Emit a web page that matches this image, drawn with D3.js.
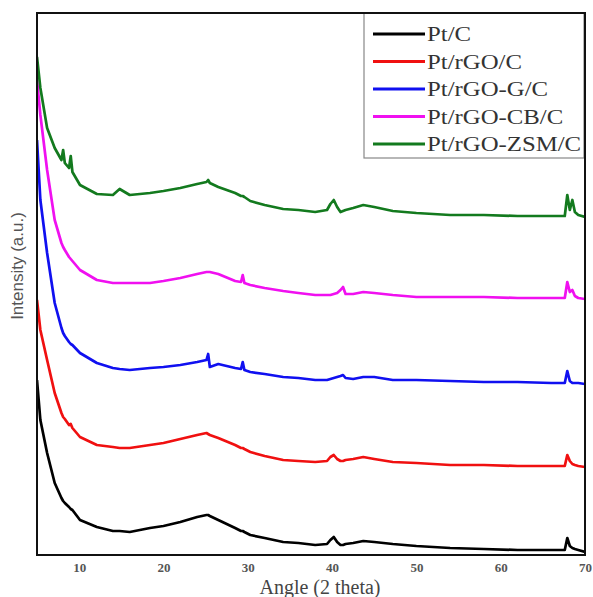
<!DOCTYPE html>
<html>
<head>
<meta charset="utf-8">
<script src="https://cdn.jsdelivr.net/npm/d3@7"></script>
<style>
  html, body { margin: 0; padding: 0; background: #fff; }
  svg { display: block; }
</style>
</head>
<body>
<div id="chart"></div>
<script>
// ---- Data ----
const angles = [5, 5.4, 6.2, 7.1, 7.9, 8.1, 8.3, 8.8, 9.0, 9.2, 10.1, 12.1, 14, 14.8, 16, 18.4, 20, 22, 24, 25.1, 25.3, 25.5, 26.5, 28.5, 29.2, 29.4, 29.6, 30.3, 32, 34.2, 36, 38, 39.4, 39.8, 40.2, 40.6, 41.0, 41.3, 41.6, 42.5, 43.7, 45, 47.2, 50, 54, 58, 62, 66, 67.6, 67.9, 68.2, 68.5, 68.8, 69.2, 70];

const seriesNames = ["Pt/C", "Pt/rGO/C", "Pt/rGO-G/C", "Pt/rGO-CB/C", "Pt/rGO-ZSM/C"];
const seriesColors = ["#000000", "#f01010", "#1010f0", "#f010f0", "#137a1e"];

// stacked (offset) intensities, arbitrary units
const ptC = [175, 135, 102, 72, 57, 54, 52, 48, 46, 45, 35, 28, 24, 24, 23, 27, 29, 33, 38, 40, 40, 39, 35, 27, 24, 24, 23, 20, 17, 13, 12, 10, 11, 15, 18, 13, 10, 10, 11, 12, 14, 13, 11, 9, 7, 6, 5, 5, 5, 17, 9, 7, 6, 5, 3];
const ptRGO = [255, 225, 195, 162, 142, 138, 136, 130, 131, 127, 118, 110, 108, 107, 107, 110, 112, 116, 120, 122, 121, 120, 117, 110, 107, 107, 106, 103, 99, 95, 94, 93, 94, 98, 100, 96, 94, 94, 95, 96, 98, 96, 93, 92, 90, 90, 89, 89, 89, 100, 94, 91, 90, 89, 88];
const ptRGOG = [415, 355, 302, 252, 227, 222, 219, 213, 211, 210, 202, 192, 187, 186, 185, 187, 188, 190, 193, 195, 201, 188, 191, 187, 186, 193, 185, 183, 181, 178, 177, 175, 175, 176, 177, 178, 179, 180, 177, 176, 178, 178, 175, 175, 174, 173, 173, 172, 172, 184, 174, 172, 172, 172, 171];
const ptRGOCB = [475, 440, 385, 335, 312, 308, 305, 298, 296, 294, 285, 275, 272, 272, 272, 272, 274, 277, 281, 283, 283, 283, 281, 274, 273, 280, 272, 270, 267, 264, 262, 260, 260, 260, 261, 262, 265, 268, 261, 261, 263, 262, 260, 258, 258, 258, 257, 257, 257, 273, 263, 265, 259, 257, 256];
const ptRGOZSM = [498, 467, 427, 407, 395, 405, 392, 387, 399, 383, 370, 361, 360, 366, 360, 362, 364, 367, 371, 373, 375, 372, 368, 362, 359, 359, 358, 354, 350, 346, 345, 343, 345, 351, 355, 348, 343, 344, 345, 347, 350, 348, 344, 342, 340, 340, 339, 339, 339, 360, 345, 355, 343, 340, 338];

const seriesValues = [ptC, ptRGO, ptRGOG, ptRGOCB, ptRGOZSM];

const xTicks = [10, 20, 30, 40, 50, 60, 70];
const xLabel = "Angle (2 theta)";
const yLabel = "Intensity (a.u.)";

// ---- Layout ----
const W = 593, H = 597;
const plot = { left: 37, right: 585, top: 13, bottom: 555 };

const svg = d3.select("#chart").append("svg")
  .attr("width", W).attr("height", H);

const x = d3.scaleLinear().domain([5, 70]).range([plot.left, plot.right]);
const y = d3.scaleLinear().domain([0, 542]).range([plot.bottom, plot.top]);

svg.append("defs").append("clipPath").attr("id", "clip")
  .append("rect").attr("x", plot.left).attr("y", plot.top)
  .attr("width", plot.right - plot.left).attr("height", plot.bottom - plot.top);

const line = d3.line().x(d => x(d[0])).y(d => y(d[1]));

const gLines = svg.append("g").attr("clip-path", "url(#clip)");
seriesValues.forEach((vals, i) => {
  const pts = angles.map((a, j) => [a, vals[j]]);
  gLines.append("path")
    .datum(pts)
    .attr("d", line)
    .attr("fill", "none")
    .attr("stroke", seriesColors[i])
    .attr("stroke-width", 2.7)
    .attr("stroke-linejoin", "round");
});

// Frame
svg.append("rect")
  .attr("x", plot.left).attr("y", plot.top)
  .attr("width", plot.right - plot.left).attr("height", plot.bottom - plot.top)
  .attr("fill", "none").attr("stroke", "#111").attr("stroke-width", 2);

// X axis labels
const xAxis = d3.axisBottom(x).tickValues(xTicks).tickSize(0).tickPadding(8)
  .tickFormat(d3.format("d"));
const gx = svg.append("g").attr("transform", `translate(0,${plot.bottom})`).call(xAxis);
gx.select(".domain").remove();
gx.selectAll("text")
  .attr("font-family", "'Liberation Serif', 'Times New Roman', serif")
  .attr("font-size", 13).attr("font-weight", "bold").attr("fill", "#555");

svg.append("text")
  .attr("x", 320).attr("y", 594)
  .attr("text-anchor", "middle")
  .attr("font-family", "'Liberation Serif', 'Times New Roman', serif")
  .attr("font-size", 20).attr("fill", "#444")
  .text(xLabel);

svg.append("text")
  .attr("transform", `translate(23,266) rotate(-90)`)
  .attr("text-anchor", "middle")
  .attr("font-family", "'Liberation Sans', Arial, sans-serif")
  .attr("font-size", 17).attr("fill", "#555")
  .text(yLabel);

// Legend
const leg = { left: 364, top: 13, right: 584, bottom: 158 };
svg.append("rect")
  .attr("x", leg.left).attr("y", leg.top)
  .attr("width", leg.right - leg.left).attr("height", leg.bottom - leg.top)
  .attr("fill", "#fff").attr("stroke", "#888").attr("stroke-width", 1.2);
// redraw frame top/right over legend
svg.append("line").attr("x1", plot.left).attr("x2", plot.right)
  .attr("y1", plot.top).attr("y2", plot.top).attr("stroke", "#111").attr("stroke-width", 2);
svg.append("line").attr("x1", plot.right).attr("x2", plot.right)
  .attr("y1", plot.top).attr("y2", plot.bottom).attr("stroke", "#111").attr("stroke-width", 2);

const rowY = d3.scalePoint().domain(seriesNames).range([34, 144]);
seriesNames.forEach((name, i) => {
  const yy = rowY(name);
  svg.append("line")
    .attr("x1", 373).attr("x2", 425).attr("y1", yy).attr("y2", yy)
    .attr("stroke", seriesColors[i]).attr("stroke-width", 2.8);
  svg.append("text")
    .attr("transform", `translate(427,${yy + 7}) scale(1.18,1)`)
    .attr("font-family", "'Liberation Serif', 'Times New Roman', serif")
    .attr("font-size", 21).attr("fill", "#333")
    .text(name);
});
</script>
</body>
</html>
